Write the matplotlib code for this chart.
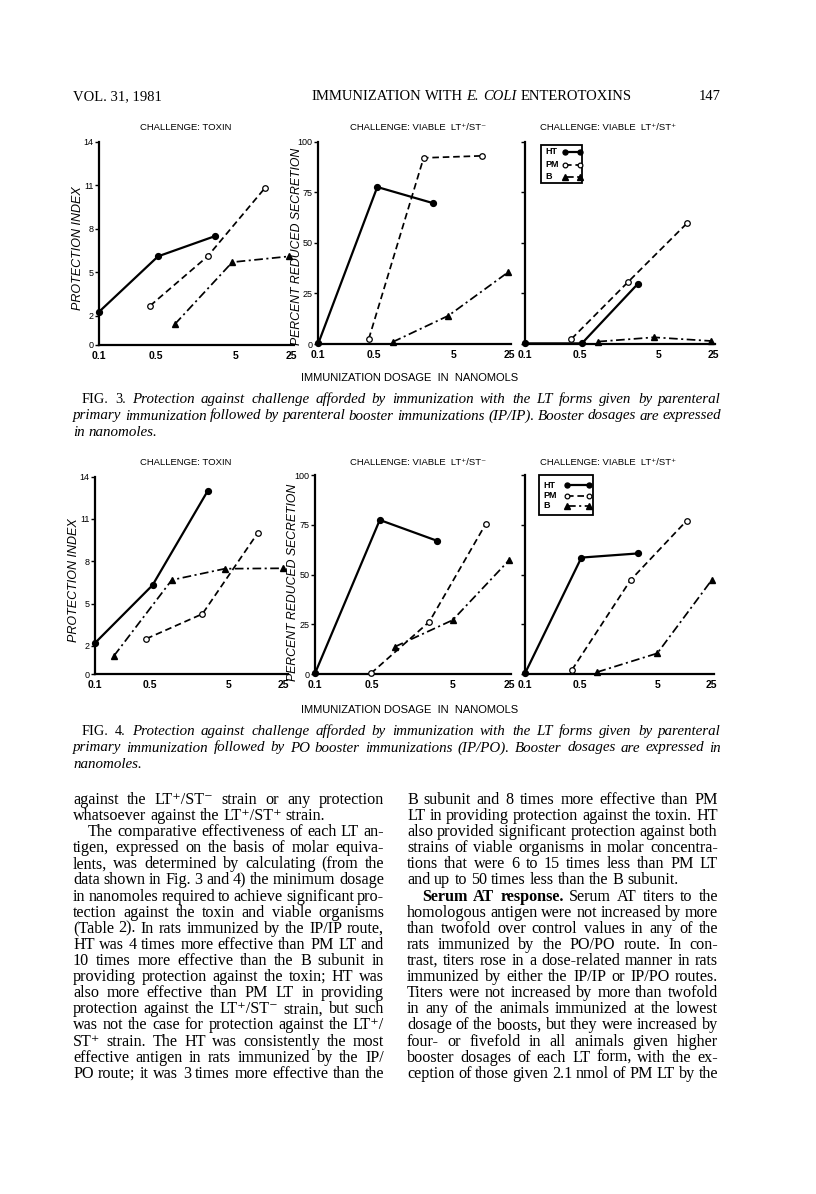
import matplotlib
matplotlib.use('Agg')
import matplotlib.pyplot as plt
from matplotlib.lines import Line2D
from matplotlib.patches import Rectangle
from matplotlib.ticker import NullLocator, FixedLocator, FixedFormatter
import numpy as np

SANS = ['Liberation Sans', 'DejaVu Sans']
SERIF = ['Liberation Serif', 'DejaVu Serif']
plt.rcParams['font.family'] = SANS

# ---------------- data ----------------
X_TICKS = [0.1, 0.5, 5, 25]
X_TICK_LABELS = ['0.1', '0.5', '5', '25']
PI_TICKS = [0, 2, 5, 8, 11, 14]
PRS_TICKS = [0, 25, 50, 75, 100]
SERIES_NAMES = ['HT', 'PM', 'B']

# Fig. 3 (IP/IP) -- challenge: toxin (protection index)
F3_TOX_HT_X = [0.1, 0.54, 2.8]
F3_TOX_HT_Y = [2.3, 6.1, 7.5]
F3_TOX_PM_X = [0.43, 2.24, 11.6]
F3_TOX_PM_Y = [2.7, 6.1, 10.8]
F3_TOX_B_X = [0.88, 4.55, 23.4]
F3_TOX_B_Y = [1.45, 5.7, 6.1]
# Fig. 3 -- viable LT+/ST- (percent reduced secretion)
F3_STM_HT_X = [0.1, 0.55, 2.72]
F3_STM_HT_Y = [0.3, 77.6, 69.7]
F3_STM_PM_X = [0.43, 2.1, 11.2]
F3_STM_PM_Y = [2.5, 92, 93]
F3_STM_B_X = [0.86, 4.3, 24]
F3_STM_B_Y = [1.0, 14, 35.4]
# Fig. 3 -- viable LT+/ST+
F3_STP_HT_X = [0.1, 0.53, 2.73]
F3_STP_HT_Y = [0.3, 0.3, 29.7]
F3_STP_PM_X = [0.39, 2.07, 11.5]
F3_STP_PM_Y = [2.5, 30.8, 59.6]
F3_STP_B_X = [0.86, 4.4, 23.2]
F3_STP_B_Y = [1.2, 3.3, 1.5]

# Fig. 4 (IP/PO) -- challenge: toxin
F4_TOX_HT_X = [0.1, 0.54, 2.73]
F4_TOX_HT_Y = [2.2, 6.3, 13.0]
F4_TOX_PM_X = [0.45, 2.33, 11.8]
F4_TOX_PM_Y = [2.5, 4.26, 10.0]
F4_TOX_B_X = [0.175, 0.95, 4.5, 24.5]
F4_TOX_B_Y = [1.3, 6.67, 7.47, 7.5]
# Fig. 4 -- viable LT+/ST-
F4_STM_HT_X = [0.1, 0.63, 3.18]
F4_STM_HT_Y = [0.3, 77.4, 67]
F4_STM_PM_X = [0.49, 2.58, 12.8]
F4_STM_PM_Y = [0.3, 26.3, 75.4]
F4_STM_B_X = [0.97, 5.0, 25]
F4_STM_B_Y = [13.7, 27.1, 57.3]
# Fig. 4 -- viable LT+/ST+
F4_STP_HT_X = [0.1, 0.53, 2.85]
F4_STP_HT_Y = [0.3, 58.5, 60.6]
F4_STP_PM_X = [0.40, 2.27, 11.9]
F4_STP_PM_Y = [2.0, 47.2, 77]
F4_STP_B_X = [0.85, 5.0, 25]
F4_STP_B_Y = [1.0, 10.4, 47.2]

TITLE_TOXIN = 'CHALLENGE: TOXIN'
TITLE_STM = 'CHALLENGE: VIABLE  LT\u207a/ST\u207b'
TITLE_STP = 'CHALLENGE: VIABLE  LT\u207a/ST\u207a'
XLABEL = 'IMMUNIZATION DOSAGE  IN  NANOMOLS'
YLABEL_PI = 'PROTECTION INDEX'
YLABEL_PRS = 'PERCENT REDUCED SECRETION'

HEADER_LEFT = 'VOL. 31, 1981'
HEADER_RIGHT = '147'

CAP3 = [
    ('~FIG. ~3. Protection against challenge afforded by immunization with the LT forms given by parenteral', True, 9),
    ('primary immunization followed by parenteral booster immunizations (IP/IP). Booster dosages are expressed', True, 0),
    ('in nanomoles.', False, 0),
]
CAP4 = [
    ('~FIG. ~4. Protection against challenge afforded by immunization with the LT forms given by parenteral', True, 9),
    ('primary immunization followed by PO booster immunizations (IP/PO). Booster dosages are expressed in', True, 0),
    ('nanomoles.', False, 0),
]
BODY_LEFT = [
    ('against the LT\u207a/ST\u207b strain or any protection', True, 0),
    ('whatsoever against the LT\u207a/ST\u207a strain.', False, 0),
    ('The comparative effectiveness of each LT an-', True, 1),
    ('tigen, expressed on the basis of molar equiva-', True, 0),
    ('lents, was determined by calculating (from the', True, 0),
    ('data shown in Fig. 3 and 4) the minimum dosage', True, 0),
    ('in nanomoles required to achieve significant pro-', True, 0),
    ('tection against the toxin and viable organisms', True, 0),
    ('(Table 2). In rats immunized by the IP/IP route,', True, 0),
    ('HT was 4 times more effective than PM LT and', True, 0),
    ('10 times more effective than the B subunit in', True, 0),
    ('providing protection against the toxin; HT was', True, 0),
    ('also more effective than PM LT in providing', True, 0),
    ('protection against the LT\u207a/ST\u207b strain, but such', True, 0),
    ('was not the case for protection against the LT\u207a/', True, 0),
    ('ST\u207a strain. The HT was consistently the most', True, 0),
    ('effective antigen in rats immunized by the IP/', True, 0),
    ('PO route; it was 3 times more effective than the', True, 0),
]
BODY_RIGHT = [
    ('B subunit and 8 times more effective than PM', True, 0),
    ('LT in providing protection against the toxin. HT', True, 0),
    ('also provided significant protection against both', True, 0),
    ('strains of viable organisms in molar concentra-', True, 0),
    ('tions that were 6 to 15 times less than PM LT', True, 0),
    ('and up to 50 times less than the B subunit.', False, 0),
    ('*Serum *AT *response. Serum AT titers to the', True, 1),
    ('homologous antigen were not increased by more', True, 0),
    ('than twofold over control values in any of the', True, 0),
    ('rats immunized by the PO/PO route. In con-', True, 0),
    ('trast, titers rose in a dose-related manner in rats', True, 0),
    ('immunized by either the IP/IP or IP/PO routes.', True, 0),
    ('Titers were not increased by more than twofold', True, 0),
    ('in any of the animals immunized at the lowest', True, 0),
    ('dosage of the boosts, but they were increased by', True, 0),
    ('four- or fivefold in all animals given higher', True, 0),
    ('booster dosages of each LT form, with the ex-', True, 0),
    ('ception of those given 2.1 nmol of PM LT by the', True, 0),
]

# ---------------- figure ----------------
W, H = 816, 1194
fig = plt.figure(figsize=(W / 100, H / 100), dpi=100)
fig.patch.set_facecolor('white')
renderer = fig.canvas.get_renderer()


def fx(px):
    return px / W


def fy(py):
    return 1 - py / H


STYLE_HT = dict(color='black', lw=1.6, ls='-', marker='o', ms=4.2, mfc='black', mec='black')
STYLE_PM = dict(color='black', lw=1.25, ls=(0, (3.8, 2.2)), marker='o', ms=4.0, mfc='white', mec='black', mew=0.9)
STYLE_B = dict(color='black', lw=1.25, ls=(0, (5, 2, 1.2, 2)), marker='^', ms=5.0, mfc='black', mec='black')


def make_axes(left, x25, right, bottom, top, yticks, show_ylabels):
    ax = fig.add_axes([fx(left), fy(bottom), (right - left) / W, (bottom - top) / H])
    ax.set_xscale('log')
    xmax = 10 ** (-1 + np.log10(250) * (right - left) / (x25 - left))
    ax.set_xlim(0.1, xmax)
    ax.set_ylim(0, yticks[-1])
    ax.xaxis.set_major_locator(FixedLocator(X_TICKS))
    ax.xaxis.set_major_formatter(FixedFormatter(X_TICK_LABELS))
    ax.xaxis.set_minor_locator(NullLocator())
    ax.set_yticks(yticks)
    if not show_ylabels:
        ax.set_yticklabels([])
    for s in ('top', 'right'):
        ax.spines[s].set_visible(False)
    for s in ('left', 'bottom'):
        ax.spines[s].set_linewidth(1.6)
    ax.tick_params(axis='x', length=0, pad=4, labelsize=7.5)
    ax.tick_params(axis='y', length=3, width=1, direction='out', pad=1, labelsize=6.5)
    for lbl in ax.get_xticklabels():
        lbl.set_fontweight('bold')
    ax.patch.set_alpha(0)
    return ax


def plot_three(ax, hx, hy, px, py, bx, by):
    ax.plot(hx, hy, clip_on=False, zorder=3, **STYLE_HT)
    ax.plot(px, py, clip_on=False, zorder=3, **STYLE_PM)
    ax.plot(bx, by, clip_on=False, zorder=3, **STYLE_B)


def add_key(x0, x1, y0, y1, rows_y, text_x, h0, h1):
    fig.add_artist(Rectangle((fx(x0), fy(y1)), (x1 - x0) / W, (y1 - y0) / H, transform=fig.transFigure,
                             fill=False, edgecolor='black', lw=1.3))
    for name, ry, st in zip(SERIES_NAMES, rows_y, (STYLE_HT, STYLE_PM, STYLE_B)):
        fig.text(fx(text_x), fy(ry), name, ha='left', va='center', fontsize=6.5, fontweight='bold')
        s = dict(st)
        s['ms'] = s['ms'] * 0.85
        fig.add_artist(Line2D([fx(h0), fx(h1)], [fy(ry), fy(ry)], transform=fig.transFigure, **s))


# Figure 3 panels
a = make_axes(99.3, 291.7, 294, 345, 141.5, PI_TICKS, True)
plot_three(a, F3_TOX_HT_X, F3_TOX_HT_Y, F3_TOX_PM_X, F3_TOX_PM_Y, F3_TOX_B_X, F3_TOX_B_Y)
a = make_axes(318.3, 509.3, 511, 344, 141.7, PRS_TICKS, True)
plot_three(a, F3_STM_HT_X, F3_STM_HT_Y, F3_STM_PM_X, F3_STM_PM_Y, F3_STM_B_X, F3_STM_B_Y)
a = make_axes(525, 713.3, 715, 344, 141.7, PRS_TICKS, False)
plot_three(a, F3_STP_HT_X, F3_STP_HT_Y, F3_STP_PM_X, F3_STP_PM_Y, F3_STP_B_X, F3_STP_B_Y)
add_key(540.7, 581.7, 145, 183, (151.5, 164.5, 176.5), 545, 564.5, 579.5)

# Figure 4 panels
a = make_axes(95, 283.3, 288, 674, 476.7, PI_TICKS, True)
plot_three(a, F4_TOX_HT_X, F4_TOX_HT_Y, F4_TOX_PM_X, F4_TOX_PM_Y, F4_TOX_B_X, F4_TOX_B_Y)
a = make_axes(315, 509.3, 511, 674, 475, PRS_TICKS, True)
plot_three(a, F4_STM_HT_X, F4_STM_HT_Y, F4_STM_PM_X, F4_STM_PM_Y, F4_STM_B_X, F4_STM_B_Y)
a = make_axes(525, 711.7, 714, 674, 475, PRS_TICKS, False)
plot_three(a, F4_STP_HT_X, F4_STP_HT_Y, F4_STP_PM_X, F4_STP_PM_Y, F4_STP_B_X, F4_STP_B_Y)
add_key(539.3, 592.7, 475, 515, (485, 495.5, 505.5), 543.5, 567, 589)

# Panel titles, axis labels
for yy in (127, 463):
    fig.text(fx(186), fy(yy), TITLE_TOXIN, ha='center', va='center', fontsize=6.8)
    fig.text(fx(418), fy(yy), TITLE_STM, ha='center', va='center', fontsize=6.8)
    fig.text(fx(608), fy(yy), TITLE_STP, ha='center', va='center', fontsize=6.8)
for yy, yl_pi, yl_prs, xpi, xprs in ((378, 248, 246, 78, 297), (710, 580, 582, 74, 293)):
    fig.text(fx(410), fy(yy), XLABEL, ha='center', va='center', fontsize=8)
    fig.text(fx(xpi), fy(yl_pi), YLABEL_PI, ha='center', va='center', rotation=90,
             fontsize=9, style='italic')
    fig.text(fx(xprs), fy(yl_prs), YLABEL_PRS, ha='center', va='center', rotation=90,
             fontsize=8.8, style='italic')


# ---------------- page text ----------------
def text_width(s, props):
    t = fig.text(0, 0, s, **props)
    w = t.get_window_extent(renderer).width
    t.remove()
    return w


def parse_words(line, base):
    words = []
    for w in line.split(' '):
        p = dict(base)
        if w.startswith('*'):
            w = w[1:]
            p['fontweight'] = 'bold'
        elif w.startswith('~'):
            w = w[1:]
            p['style'] = 'normal'
            p['fontsize'] = base['fontsize'] * 0.95
        words.append((w, p))
    return words


def put_line(x0, x1, yb, line, justify, base):
    words = parse_words(line, base)
    widths = [text_width(w, p) for w, p in words]
    nat = text_width('a a', base) - 2 * text_width('a', base)
    if justify and len(words) > 1:
        gap = max((x1 - x0 - sum(widths)) / (len(words) - 1), 1.0)
    else:
        gap = nat
    x = x0
    for (w, p), wd in zip(words, widths):
        fig.text(fx(x), fy(yb), w, ha='left', va='baseline', **p)
        x += wd + gap


def fit_size(blocks, base, ref_size, min_gap, cap):
    """Largest font size such that every justified line keeps at least min_gap between words."""
    best = cap
    for lines, xl, xr, indent in blocks:
        for ln, just, ind in lines:
            if not just:
                continue
            words = parse_words(ln, dict(base, fontsize=ref_size))
            tot = sum(text_width(w, p) for w, p in words)
            avail = (xr - xl - indent * ind) - (len(words) - 1) * min_gap
            best = min(best, ref_size * avail / tot)
    return best


HEAD = dict(family=SERIF, fontsize=10.5)
fig.text(fx(73), fy(100), HEADER_LEFT, ha='left', va='baseline', **HEAD)
x = 311
for w, it in (('IMMUNIZATION', False), ('WITH', False), ('E.', True), ('COLI', True), ('ENTEROTOXINS', False)):
    p = dict(HEAD)
    if it:
        p['style'] = 'italic'
    fig.text(fx(x), fy(100), w, ha='left', va='baseline', **p)
    x += text_width(w, p) + 0.27 * 14.6
fig.text(fx(721), fy(100), HEADER_RIGHT, ha='right', va='baseline', **HEAD)

CAPF = dict(family=SERIF, style='italic')
cap_size = fit_size([(CAP3, 73, 721, 1), (CAP4, 73, 721, 1)], CAPF, 10.0, 3.2, 12.0)
CAPF['fontsize'] = cap_size
for lines, y0 in ((CAP3, 403), (CAP4, 735)):
    for i, (ln, just, ind) in enumerate(lines):
        put_line(73 + ind, 721, y0 + i * 16.5, ln, just, CAPF)

BODYF = dict(family=SERIF)
body_size = fit_size([(BODY_LEFT, 73, 384, 15), (BODY_RIGHT, 407, 718, 15)], BODYF, 10.0, 3.0, 11.8)
BODYF['fontsize'] = body_size
for lines, xl, xr in ((BODY_LEFT, 73, 384), (BODY_RIGHT, 407, 718)):
    for i, (ln, just, ind) in enumerate(lines):
        put_line(xl + 15 * ind, xr, 804 + i * 16.1, ln, just, BODYF)

fig.savefig('out.png', dpi=100, facecolor='white')
